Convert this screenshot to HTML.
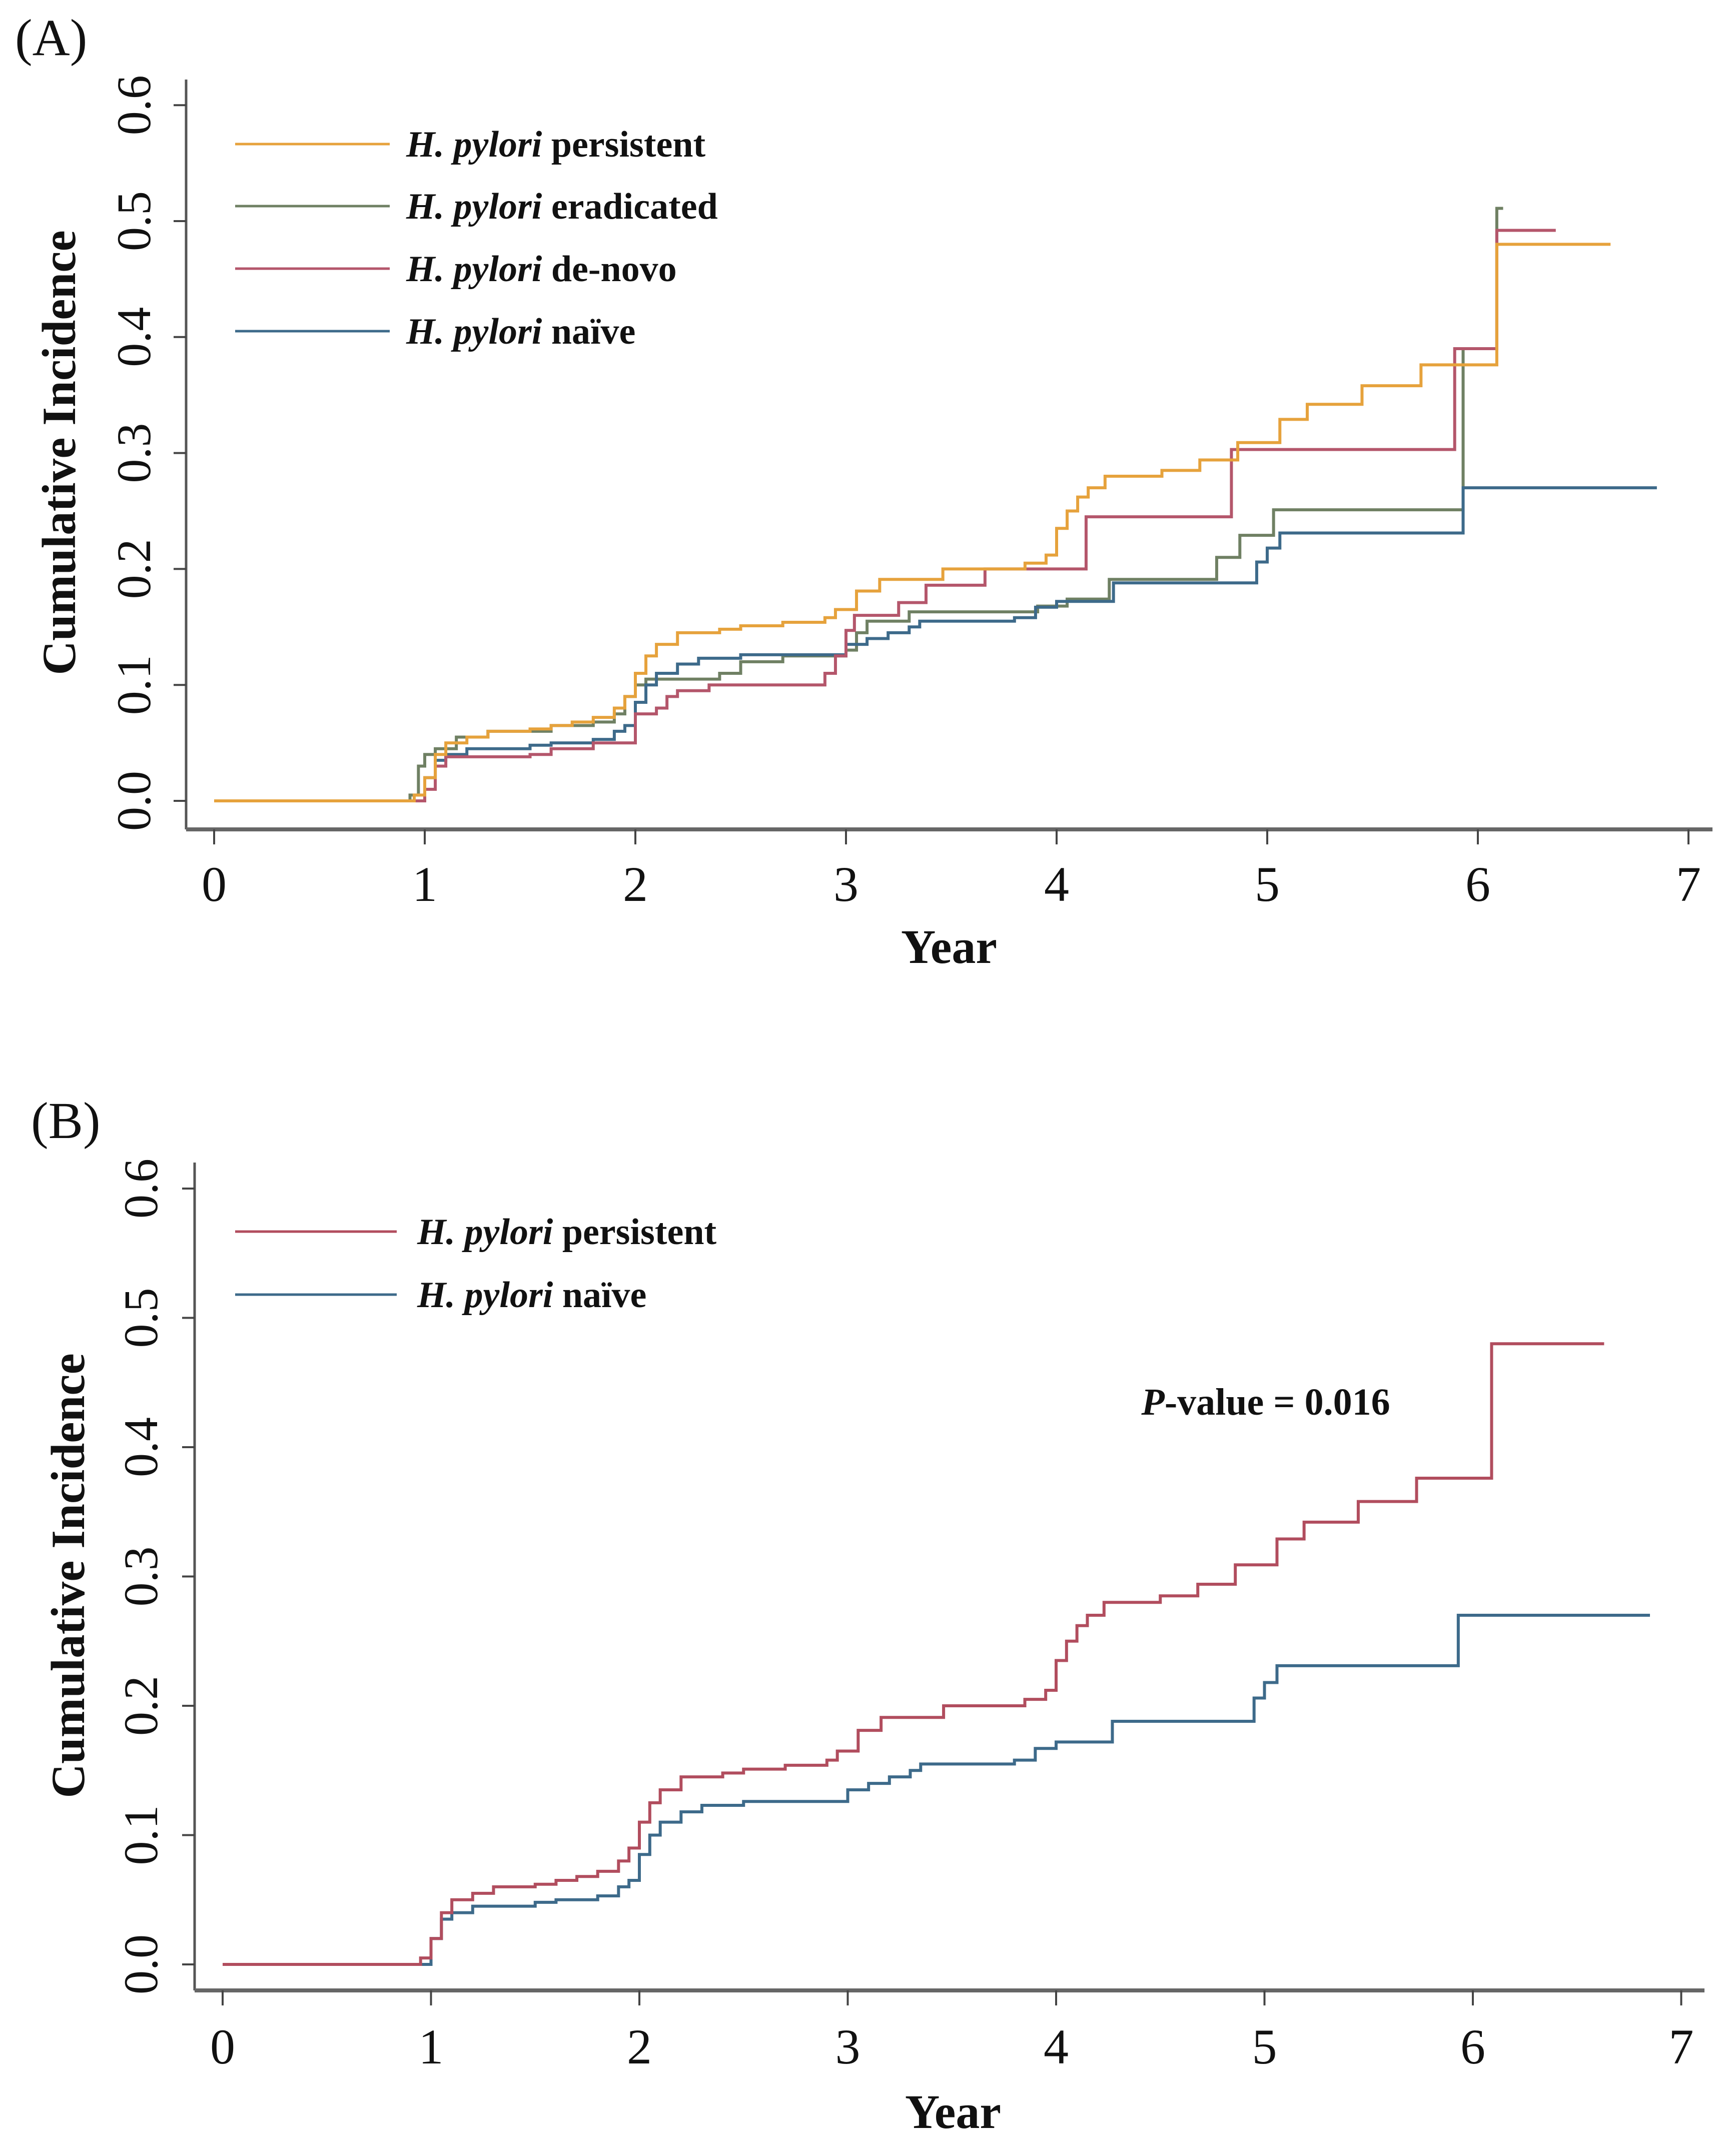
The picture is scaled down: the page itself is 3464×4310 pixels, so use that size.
<!DOCTYPE html>
<html><head><meta charset="utf-8"><style>
html,body{margin:0;padding:0;background:#fff;}
svg{display:block;}
text{font-family:"Liberation Serif","DejaVu Serif",serif;fill:#111;}
</style></head><body>
<svg id="fig" width="3464" height="4310" viewBox="0 0 3464 4310" xmlns="http://www.w3.org/2000/svg">
<text x="30" y="110" font-size="104">(A)</text>
<text x="62" y="2275" font-size="104">(B)</text>
<g id="gA"></g>
<g id="gB"></g>
<text x="2530" y="2828" font-size="76" font-weight="bold" text-anchor="middle"><tspan font-style="italic">P</tspan>-value = 0.016</text>
</svg>
<script>
// ---- data ----
const xTicks = [0,1,2,3,4,5,6,7];
const yTicks = [0.0,0.1,0.2,0.3,0.4,0.5,0.6];
const yTickLabels = ["0.0","0.1","0.2","0.3","0.4","0.5","0.6"];
const persistentT = [0,0.92,0.95,1.0,1.05,1.1,1.2,1.3,1.5,1.6,1.7,1.8,1.9,1.95,2.0,2.05,2.1,2.2,2.4,2.5,2.7,2.9,2.95,3.05,3.16,3.46,3.85,3.95,4.0,4.05,4.1,4.15,4.23,4.5,4.68,4.86,5.06,5.19,5.45,5.73,6.09,6.63];
const persistentV = [0,0,0.005,0.02,0.04,0.05,0.055,0.06,0.062,0.065,0.068,0.072,0.08,0.09,0.11,0.125,0.135,0.145,0.148,0.151,0.154,0.158,0.165,0.181,0.191,0.2,0.205,0.212,0.235,0.25,0.262,0.27,0.28,0.285,0.294,0.309,0.329,0.342,0.358,0.376,0.48,0.48];
const naiveT = [0,0.92,1.0,1.05,1.1,1.2,1.5,1.6,1.8,1.9,1.95,2.0,2.05,2.1,2.2,2.3,2.5,3.0,3.1,3.2,3.3,3.35,3.8,3.9,4.0,4.27,4.95,5.0,5.06,5.93,6.85];
const naiveV = [0,0,0.02,0.035,0.04,0.045,0.048,0.05,0.053,0.06,0.065,0.085,0.1,0.11,0.118,0.123,0.126,0.135,0.14,0.145,0.15,0.155,0.158,0.167,0.172,0.188,0.206,0.218,0.231,0.27,0.27];
const eradT = [0,0.93,0.97,1.0,1.05,1.15,1.3,1.6,1.8,1.9,1.95,2.0,2.05,2.4,2.5,2.7,3.0,3.05,3.1,3.3,3.77,3.91,4.05,4.25,4.76,4.87,5.03,5.93,6.09,6.12];
const eradV = [0,0.005,0.03,0.04,0.045,0.055,0.06,0.065,0.068,0.075,0.09,0.1,0.105,0.11,0.12,0.125,0.13,0.145,0.155,0.163,0.163,0.168,0.174,0.191,0.21,0.229,0.251,0.39,0.511,0.511];
const denovoT = [0,0.93,1.0,1.05,1.1,1.5,1.6,1.8,2.0,2.1,2.15,2.2,2.35,2.9,2.95,3.0,3.04,3.25,3.38,3.66,4.14,4.83,5.89,6.09,6.37];
const denovoV = [0,0,0.01,0.03,0.038,0.04,0.045,0.05,0.075,0.08,0.09,0.095,0.1,0.11,0.125,0.147,0.16,0.171,0.186,0.2,0.245,0.303,0.39,0.492,0.492];

const NS = "http://www.w3.org/2000/svg";
function mk(parent, tag, attrs){const e=document.createElementNS(NS,tag);for(const k in attrs)e.setAttribute(k,attrs[k]);parent.appendChild(e);return e;}

function panel(g, cfg, series, legend){
  const sx = t => cfg.x0 + t*cfg.px;
  const sy = v => cfg.y0 - v*cfg.py;
  const ya = mk(g,'line',{x1:cfg.ax,y1:cfg.top,x2:cfg.ax,y2:cfg.axisY,stroke:'#555','stroke-width':5});
  
  
  const xa = mk(g,'line',{x1:cfg.ax,y1:cfg.axisY,x2:cfg.right,y2:cfg.axisY,stroke:'#666','stroke-width':8});
  
  
  xTicks.forEach(t=>{
    const tk = mk(g,'line',{x1:sx(t),y1:cfg.axisY,x2:sx(t),y2:cfg.axisY+30,stroke:'#444','stroke-width':4});
    
    
    const tl = mk(g,'text',{x:sx(t),y:cfg.xLabY+34,'font-size':100,'text-anchor':'middle'});
    tl.textContent = t;
    
    
  });
  yTicks.forEach((v,i)=>{
    const tk = mk(g,'line',{x1:cfg.ax-25,y1:sy(v),x2:cfg.ax,y2:sy(v),stroke:'#444','stroke-width':4});
    
    
    const tl = mk(g,'text',{x:0,y:0,'font-size':96,'text-anchor':'middle',transform:`translate(${cfg.yLabX+34},${sy(v)}) rotate(-90)`});
    tl.textContent = yTickLabels[i];
    
    
  });
  const yt = mk(g,'text',{x:0,y:0,'font-size':95,'font-weight':'bold','text-anchor':'middle',transform:`translate(${cfg.ytX},${cfg.ytY}) rotate(-90)`});
  yt.textContent='Cumulative Incidence';
  
  
  const xt = mk(g,'text',{x:cfg.xtX,y:cfg.xtY+34,'font-size':96,'font-weight':'bold','text-anchor':'middle'});
  xt.textContent='Year';
  
  
  series.forEach(s=>{
    let d=`M${sx(s.t[0])},${sy(s.v[0])}`;
    for(let i=1;i<s.t.length;i++){d+=` H${sx(s.t[i])} V${sy(s.v[i])}`;}
    const p = mk(g,'path',{d:d,fill:'none',stroke:s.c,'stroke-width':6});
    
    
  });
  legend.forEach(l=>{
    const ln = mk(g,'line',{x1:470,y1:l.y,x2:cfg.legX2,y2:l.y,stroke:l.c,'stroke-width':5});
    
    
    const tx = mk(g,'text',{x:cfg.legTX,y:l.y+25,'font-size':74,'font-weight':'bold'});
    const it = mk(tx,'tspan',{'font-style':'italic'}); it.textContent='H. pylori';
    const rest = mk(tx,'tspan',{}); rest.textContent=' '+l.label;
    
    
  });
}

const cA = {x0:428,px:421,y0:1601,py:2318,ax:372,top:159,axisY:1658,right:3423,xLabY:1767,yLabX:266,ytX:150,ytY:905,xtX:1897,xtY:1891,legX2:779,legTX:812};
panel(document.getElementById('gA'), cA, [
  {t:eradT,v:eradV,c:'#6f8063',name:'eradicated-line'},
  {t:naiveT,v:naiveV,c:'#3d6a8a',name:'naive-line'},
  {t:denovoT,v:denovoV,c:'#b4566b',name:'denovo-line'},
  {t:persistentT,v:persistentV,c:'#e6a23c',name:'persistent-line'}
],[
  {y:288,c:'#e6a23c',label:'persistent'},
  {y:412,c:'#6f8063',label:'eradicated'},
  {y:537,c:'#b4566b',label:'de-novo'},
  {y:662,c:'#3d6a8a',label:'naïve'}
]);
const cB = {x0:445,px:416.5,y0:3927,py:2585,ax:389,top:2324,axisY:3979,right:3407,xLabY:4091,yLabX:280,ytX:168,ytY:3150,xtX:1905,xtY:4220,legX2:793,legTX:834};
panel(document.getElementById('gB'), cB, [
  {t:naiveT,v:naiveV,c:'#3d6a8a',name:'naive-line'},
  {t:persistentT,v:persistentV,c:'#b14d5e',name:'persistent-line'}
],[
  {y:2462,c:'#b14d5e',label:'persistent'},
  {y:2588,c:'#3d6a8a',label:'naïve'}
]);
</script>
</body></html>
